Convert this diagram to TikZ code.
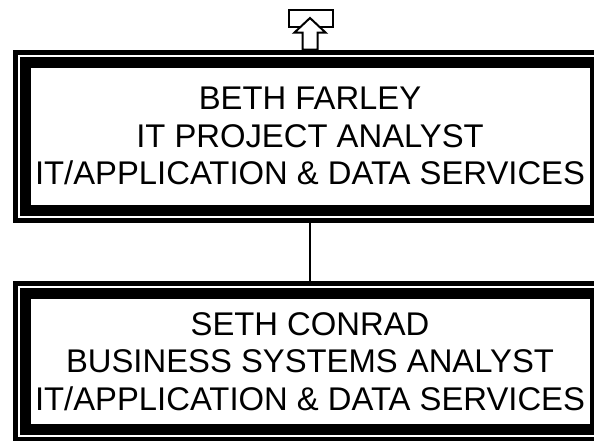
\documentclass[tikz,border=0pt]{standalone}
\usepackage{fontspec}
\setmainfont{Liberation Sans}
\usetikzlibrary{fit,positioning}
\begin{document}
\begin{tikzpicture}[x=1pt,y=-1pt]
            \useasboundingbox (0,0) rectangle (594,440);
            \begin{scope}[every node/.style={rectangle, draw, line width=10.5pt, minimum width=569.5pt, inner sep=2pt, align=center, font=\fontsize{32.8}{37.5}\selectfont}]

                \node[minimum height=148pt] (beth) at (310,136.25) {BETH FARLEY\\IT PROJECT ANALYST\\IT/APPLICATION \& DATA SERVICES};
                \node[minimum height=136.25pt] (seth) at (310,361.4) {SETH CONRAD\\BUSINESS SYSTEMS ANALYST\\IT/APPLICATION \& DATA SERVICES};

            \end{scope}
            \begin{scope}[every node/.style={rectangle, draw, line width=5pt, inner sep=5pt}]

                \node[fit=(beth)] (bethframe) {};
                \node[fit=(seth)] (sethframe) {};

            \end{scope}
            \node[draw, line width=2pt, minimum width=44pt, minimum height=17pt, inner sep=0pt] (up) at (311,18.5) {};
            \path (bethframe) edge[line width=2pt] (sethframe);
            \draw[line width=2pt, fill=white] ([xshift=-7.5pt]bethframe.north) -- ++(0,-17) -- ++(-8,0)
                -- ++(15.5,-14.5) -- ++(15.5,14.5) -- ++(-8,0) -- ++(0,17) -- cycle;
        \end{tikzpicture}
\end{document}
